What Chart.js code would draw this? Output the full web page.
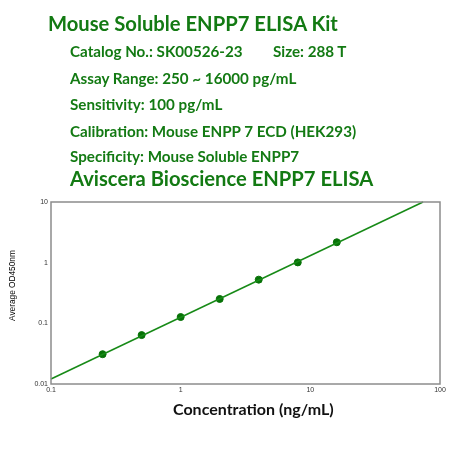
<!DOCTYPE html>
<html>
<head>
<meta charset="utf-8">
<script src="https://cdn.jsdelivr.net/npm/chart.js@4/dist/chart.umd.min.js"></script>
<style>
  body { margin: 0; background: #fff; }
  #wrap { position: relative; width: 450px; height: 450px; }
  #wrap canvas { position: absolute; left: 0; top: 0; }
  .t { position: absolute; color: #137a13; font-family: Lato, sans-serif; font-weight: bold; white-space: nowrap; }
  .s { font-size: 15.2px; }
  .ax { position: absolute; color: #111; white-space: nowrap; }
</style>
</head>
<body>
<div id="wrap">
  <canvas id="chart" width="450" height="450"></canvas>
  <div class="t" style="left:48px;top:11px;font-size:20.2px;">Mouse Soluble ENPP7 ELISA Kit</div>
  <div class="t s" style="left:70px;top:42px;">Catalog No.: SK00526-23</div>
  <div class="t s" style="left:273px;top:42px;">Size: 288 T</div>
  <div class="t s" style="left:70px;top:69px;">Assay Range: 250 ~ 16000 pg/mL</div>
  <div class="t s" style="left:70px;top:95px;">Sensitivity: 100 pg/mL</div>
  <div class="t s" style="left:70px;top:122px;">Calibration: Mouse ENPP 7 ECD (HEK293)</div>
  <div class="t s" style="left:70px;top:147px;">Specificity: Mouse Soluble ENPP7</div>
  <div class="t" style="left:70px;top:166px;font-size:20.2px;">Aviscera Bioscience ENPP7 ELISA</div>
  <div class="ax" style="left:173px;top:399px;font:bold 16px Lato, sans-serif;">Concentration (ng/mL)</div>
  <div class="ax" style="left:-23px;top:281px;width:70px;height:10px;line-height:10px;text-align:center;color:#000;font:8.3px 'Liberation Sans', Arial, sans-serif;transform:rotate(-90deg);">Average OD450nm</div>
</div>
<script>
// standards, ng/mL vs OD450
const concentrations = [0.25, 0.5, 1, 2, 4, 8, 16];
const odValues = [0.031, 0.064, 0.127, 0.252, 0.525, 1.01, 2.17];
// fitted curve end points
const fitX = [0.1, 74];
const fitY = [0.0121, 10];
const xTicks = [0.1, 1, 10, 100];
const yTicks = [0.01, 0.1, 1, 10];

const frame = {
  id: "frame",
  afterDatasetsDraw(chart) {
    const a = chart.chartArea;
    const ctx = chart.ctx;
    ctx.save();
    ctx.strokeStyle = "#8c8c8c";
    ctx.lineWidth = 1.5;
    ctx.strokeRect(a.left, a.top, a.right - a.left, a.bottom - a.top);
    ctx.restore();
  }
};

const tickFont = { family: "Liberation Sans, Arial", size: 7 };

new Chart(document.getElementById("chart"), {
  type: "scatter",
  data: {
    datasets: [
      {
        data: fitX.map((x, i) => ({ x: x, y: fitY[i] })),
        showLine: true,
        borderColor: "#178a17",
        borderWidth: 1.5,
        pointRadius: 0,
        clip: false
      },
      {
        data: concentrations.map((x, i) => ({ x: x, y: odValues[i] })),
        backgroundColor: "#077207",
        borderColor: "#077207",
        pointRadius: 3.5
      }
    ]
  },
  plugins: [frame],
  options: {
    responsive: false,
    animation: false,
    layout: { padding: { left: 0, top: 202, right: 10, bottom: 0 } },
    plugins: { legend: { display: false }, tooltip: { enabled: false } },
    scales: {
      x: {
        type: "logarithmic",
        min: 0.1,
        max: 100,
        grid: { display: false, drawTicks: false, tickLength: 0 },
        border: { display: false },
        afterBuildTicks: (s) => { s.ticks = xTicks.map((v) => ({ value: v })); },
        afterFit: (s) => { s.height = 66; },
        ticks: { color: "#333", font: tickFont, padding: 2, maxRotation: 0, autoSkip: false,
          callback: (v) => String(v) }
      },
      y: {
        type: "logarithmic",
        min: 0.01,
        max: 10,
        grid: { display: false, drawTicks: false, tickLength: 0 },
        border: { display: false },
        afterBuildTicks: (s) => { s.ticks = yTicks.map((v) => ({ value: v })); },
        afterFit: (s) => { s.width = 51; },
        ticks: { color: "#333", font: tickFont, padding: 3, autoSkip: false,
          callback: (v) => String(v) }
      }
    }
  }
});
</script>
</body>
</html>
